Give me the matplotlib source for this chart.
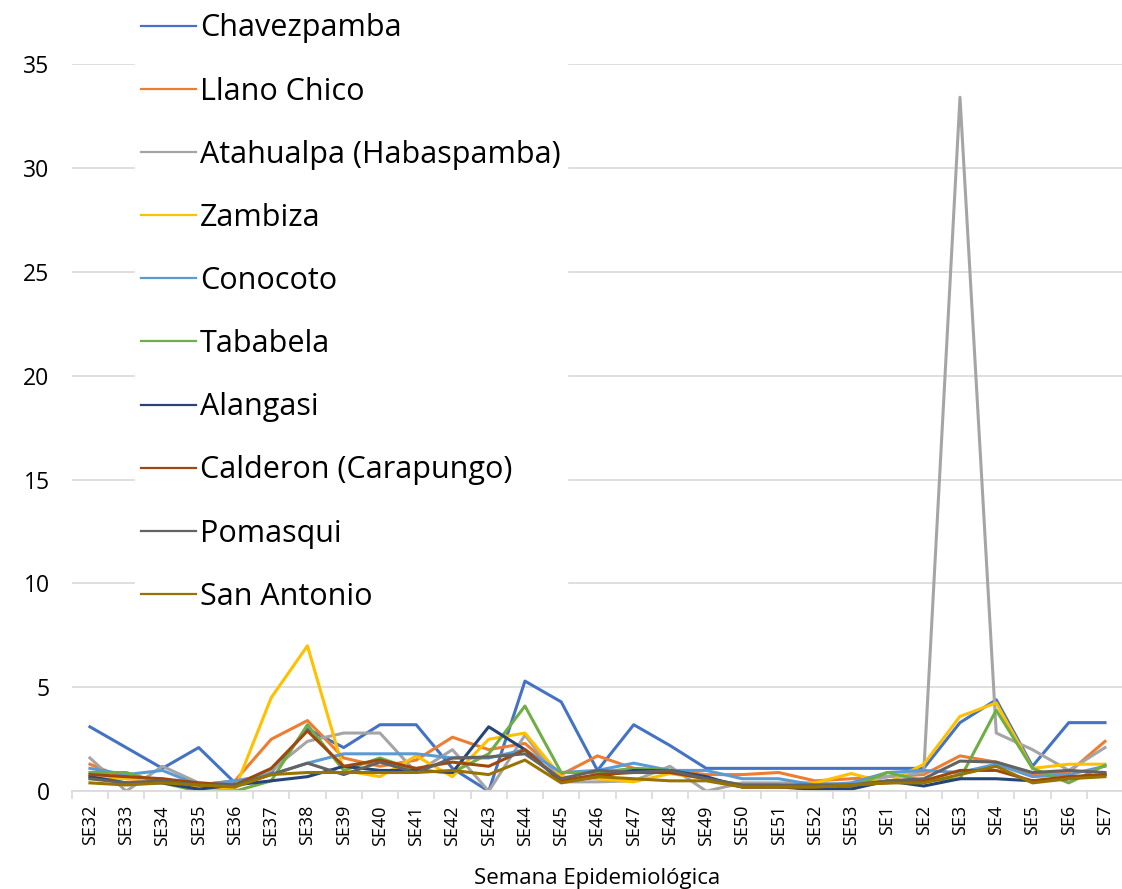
import numpy as np
import matplotlib.pyplot as plt

weeks = ['SE32', 'SE33', 'SE34', 'SE35', 'SE36', 'SE37', 'SE38', 'SE39', 'SE40', 'SE41',
         'SE42', 'SE43', 'SE44', 'SE45', 'SE46', 'SE47', 'SE48', 'SE49', 'SE50', 'SE51',
         'SE52', 'SE53', 'SE1', 'SE2', 'SE3', 'SE4', 'SE5', 'SE6', 'SE7']

chavezpamba = [3.1, 2.1, 1.1, 2.1, 0.4, 0.9, 3.0, 2.1, 3.2, 3.2, 1.1, 0.0, 5.3, 4.3, 1.0,
               3.2, 2.2, 1.1, 1.1, 1.1, 1.1, 1.1, 1.1, 1.1, 3.3, 4.4, 1.2, 3.3, 3.3]
llano_chico = [1.3, 0.6, 0.5, 0.3, 0.5, 2.5, 3.4, 1.6, 1.2, 1.5, 2.6, 2.0, 2.3, 0.8, 1.7,
               1.1, 1.0, 0.8, 0.8, 0.9, 0.5, 0.6, 0.7, 0.8, 1.7, 1.4, 0.8, 0.9, 2.4]
atahualpa = [1.6, 0.0, 1.2, 0.4, 0.3, 1.0, 2.4, 2.8, 2.8, 0.9, 2.0, 0.0, 2.7, 0.45, 0.45,
             0.5, 1.2, 0.0, 0.4, 0.4, 0.4, 0.3, 0.7, 0.9, 33.4, 2.8, 2.0, 1.0, 2.1]
zambiza = [0.6, 0.6, 0.6, 0.2, 0.1, 4.5, 7.0, 1.0, 0.7, 1.7, 0.7, 2.5, 2.8, 0.7, 0.6,
           0.45, 0.85, 0.6, 0.3, 0.3, 0.4, 0.85, 0.4, 1.3, 3.6, 4.25, 1.1, 1.3, 1.3]
conocoto = [1.1, 0.8, 1.0, 0.3, 0.5, 0.8, 1.35, 1.8, 1.8, 1.8, 1.6, 1.6, 2.0, 0.9, 1.0,
            1.35, 1.0, 1.0, 0.6, 0.6, 0.3, 0.4, 0.9, 1.0, 0.9, 1.3, 0.7, 0.8, 1.2]
tababela = [0.9, 0.9, 0.4, 0.0, 0.0, 0.5, 3.2, 1.0, 1.6, 1.0, 0.9, 1.8, 4.1, 0.9, 0.9,
            1.1, 1.0, 0.6, 0.3, 0.3, 0.0, 0.2, 0.9, 0.5, 0.6, 3.9, 1.1, 0.4, 1.25]
alangasi = [0.7, 0.4, 0.4, 0.1, 0.3, 0.5, 0.7, 1.2, 1.0, 1.0, 0.9, 3.1, 2.0, 0.45, 0.7,
            1.0, 1.0, 0.7, 0.2, 0.2, 0.1, 0.1, 0.5, 0.25, 0.6, 0.6, 0.5, 0.6, 0.8]
calderon = [0.8, 0.7, 0.6, 0.4, 0.3, 1.1, 2.9, 1.2, 1.5, 1.1, 1.4, 1.2, 2.0, 0.5, 0.8,
            0.9, 0.9, 0.6, 0.2, 0.2, 0.2, 0.3, 0.4, 0.5, 1.0, 1.0, 0.5, 0.7, 0.8]
pomasqui = [0.6, 0.4, 0.5, 0.3, 0.3, 0.8, 1.35, 0.8, 1.4, 0.9, 1.6, 1.65, 1.8, 0.6, 1.0,
            0.9, 1.0, 0.6, 0.3, 0.3, 0.3, 0.3, 0.5, 0.6, 1.45, 1.4, 0.9, 1.0, 0.9]
san_antonio = [0.4, 0.3, 0.4, 0.3, 0.2, 0.8, 0.9, 0.9, 0.9, 0.9, 1.0, 0.8, 1.5, 0.4, 0.7,
               0.6, 0.5, 0.5, 0.2, 0.2, 0.2, 0.3, 0.4, 0.4, 0.8, 1.2, 0.4, 0.6, 0.7]

names = ['Chavezpamba', 'Llano Chico', 'Atahualpa (Habaspamba)', 'Zambiza', 'Conocoto',
         'Tababela', 'Alangasi', 'Calderon (Carapungo)', 'Pomasqui', 'San Antonio']
series = [chavezpamba, llano_chico, atahualpa, zambiza, conocoto,
          tababela, alangasi, calderon, pomasqui, san_antonio]
colors = ['#4472C4', '#ED7D31', '#A5A5A5', '#FFC000', '#5B9BD5',
          '#70AD47', '#264478', '#9E480E', '#636363', '#997300']

plt.rcParams['font.family'] = ['Open Sans', 'DejaVu Sans']

fig = plt.figure(figsize=(11.22, 8.89), dpi=100)
ax = fig.add_axes([0.064, 0.110, 0.937, 0.818])

x = np.arange(len(weeks))
for name, vals, c in zip(names, series, colors):
    ax.plot(x, vals, color=c, lw=2.2, label=name)

ax.set_xlim(-0.5, len(weeks) - 0.5)
ax.set_ylim(0, 35)
ax.set_yticks(range(0, 36, 5))
ax.yaxis.grid(True, color='#D9D9D9', lw=1.2)
ax.set_axisbelow(True)
for s in ['top', 'right', 'left']:
    ax.spines[s].set_visible(False)
ax.spines['bottom'].set_color('#D9D9D9')
ax.spines['bottom'].set_linewidth(1.2)

ax.set_xticks(x)
ax.set_xticklabels(weeks, rotation=90, fontsize=13)
ax.set_xticks(np.arange(-0.5, len(weeks), 1), minor=True)
ax.tick_params(axis='x', which='major', length=0, pad=10)
ax.tick_params(axis='x', which='minor', length=6, color='#D9D9D9', width=1.2)
ax.tick_params(axis='y', length=0, labelsize=16.5, pad=16)

ax.set_xlabel('Semana Epidemiológica', fontsize=16, labelpad=16)

leg = ax.legend(loc='upper left', bbox_to_anchor=(0.1065, 1.009), bbox_transform=fig.transFigure,
                fontsize=22, frameon=True, framealpha=1, edgecolor='white',
                handlelength=1.8, handletextpad=0.13, labelspacing=1.085, borderpad=0.2)
for h in leg.get_lines():
    h.set_linewidth(1.6)

plt.savefig('out.png', dpi=100)
